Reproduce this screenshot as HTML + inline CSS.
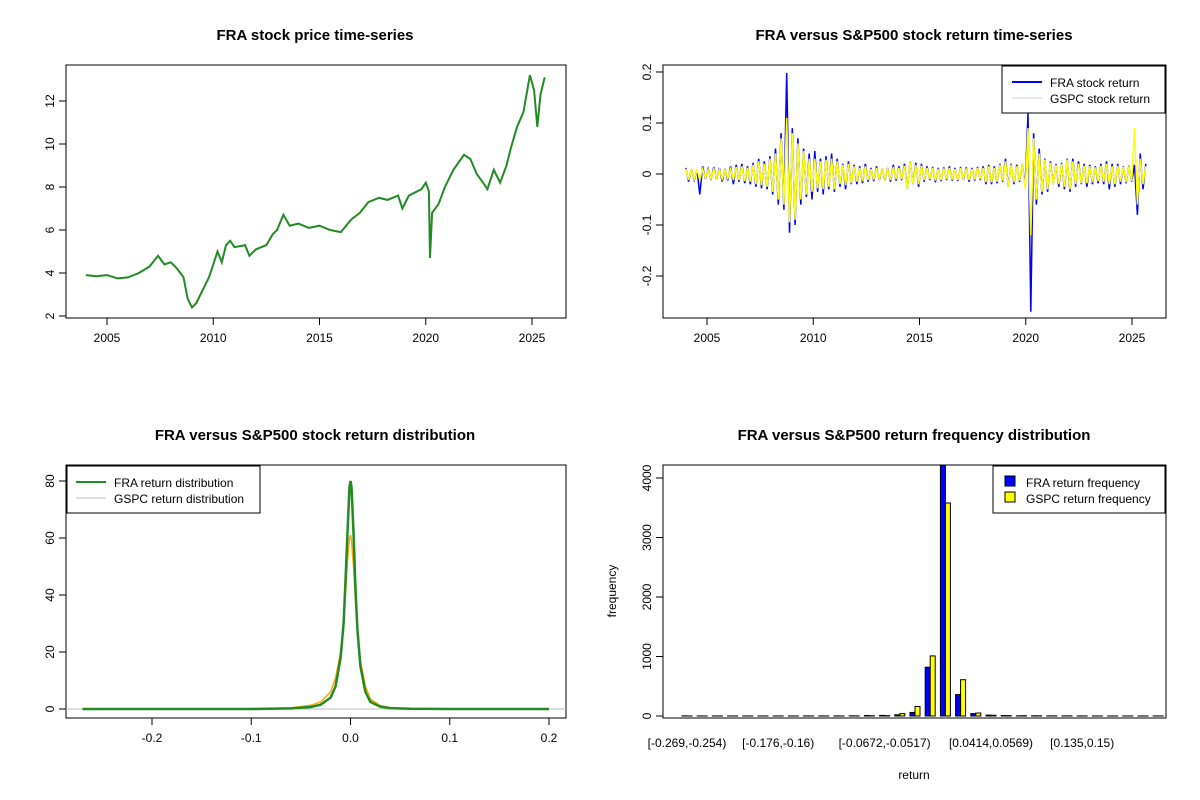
<!DOCTYPE html>
<html><head><meta charset="utf-8"><style>
body{margin:0;background:#fff}
svg{display:block;font-family:"Liberation Sans",Arial,sans-serif}
.t{font-weight:bold;font-size:15px}
.tk{font-size:12px}
</style></head><body>
<svg id="s" width="1200" height="800" xmlns="http://www.w3.org/2000/svg"></svg>
<script>
// ---- data ----
const priceYears=[2004,2004.5,2005,2005.5,2006,2006.5,2007,2007.4,2007.7,2008,2008.3,2008.6,2008.8,2009.0,2009.2,2009.5,2009.8,2010.0,2010.2,2010.4,2010.6,2010.8,2011.0,2011.5,2011.7,2012,2012.5,2012.8,2013,2013.3,2013.6,2014,2014.5,2015,2015.5,2016,2016.5,2016.9,2017.3,2017.8,2018.2,2018.7,2018.9,2019.2,2019.8,2020.0,2020.15,2020.2,2020.3,2020.6,2020.9,2021.3,2021.8,2022.1,2022.4,2022.7,2022.9,2023.2,2023.5,2023.8,2024.0,2024.3,2024.6,2024.9,2025.1,2025.25,2025.4,2025.6];
const priceValues=[3.9,3.85,3.9,3.75,3.8,4.0,4.3,4.8,4.4,4.5,4.2,3.8,2.8,2.4,2.6,3.2,3.8,4.4,5.0,4.5,5.3,5.5,5.2,5.3,4.8,5.1,5.3,5.8,6.0,6.7,6.2,6.3,6.1,6.2,6.0,5.9,6.5,6.8,7.3,7.5,7.4,7.6,7.0,7.6,7.9,8.2,7.8,4.7,6.8,7.2,8.0,8.8,9.5,9.3,8.6,8.2,7.9,8.8,8.2,9.0,9.8,10.8,11.5,13.2,12.5,10.8,12.3,13.1];
const retStart=2004, retStep=0.132;
const fraReturns=[.012,-.015,.01,-.012,.008,-.04,.015,-.01,.01,-.012,.014,-.01,.012,-.015,.01,-.013,.015,-.02,.018,-.015,.02,-.018,.015,-.02,.022,-.025,.03,-.028,.025,-.03,.035,-.04,.05,-.06,.08,-.07,.198,-.115,.09,-.1,.07,-.06,.05,-.045,.04,-.05,.045,-.035,.03,-.04,.035,-.03,.04,-.035,.03,-.025,.02,-.03,.025,-.02,.018,-.02,.015,-.018,.02,-.015,.012,-.014,.015,-.012,.01,-.012,.012,-.015,.018,-.013,.015,-.012,.02,-.03,.025,-.02,.022,-.025,.02,-.015,.015,-.012,.014,-.016,.012,-.014,.013,-.012,.015,-.013,.012,-.014,.014,-.012,.013,-.015,.012,-.013,.014,-.012,.015,-.02,.018,-.02,.015,-.018,.02,-.015,.03,-.025,.02,-.02,.018,-.015,.02,-.025,.12,-.27,.08,-.06,.05,-.04,.03,-.035,.025,-.02,.02,-.025,.022,-.03,.03,-.035,.03,-.025,.025,-.02,.02,-.025,.018,-.02,.015,-.018,.02,-.02,.025,-.03,.02,-.025,.02,-.02,.015,-.018,.016,-.015,.018,-.08,.04,-.03,.02];
const gspcReturns=[.01,-.012,.009,-.01,.008,-.012,.01,-.008,.008,-.01,.01,-.008,.009,-.01,.008,-.009,.01,-.012,.014,-.012,.015,-.014,.012,-.015,.018,-.02,.025,-.022,.02,-.025,.03,-.035,.04,-.05,.07,-.06,.11,-.095,.08,-.09,.06,-.05,.045,-.04,.03,-.035,.03,-.028,.025,-.03,.028,-.025,.03,-.03,.025,-.02,.018,-.022,.02,-.018,.015,-.015,.012,-.014,.015,-.012,.01,-.011,.012,-.01,.009,-.01,.01,-.012,.014,-.01,.012,-.01,.016,-.03,.025,-.02,.018,-.02,.016,-.012,.012,-.01,.012,-.013,.01,-.012,.011,-.01,.012,-.011,.01,-.012,.012,-.01,.011,-.012,.01,-.011,.012,-.01,.012,-.016,.015,-.016,.012,-.015,.018,-.013,.025,-.025,.018,-.016,.015,-.013,.02,-.03,.09,-.12,.07,-.05,.04,-.035,.028,-.03,.022,-.02,.018,-.02,.02,-.025,.028,-.03,.025,-.02,.02,-.018,.016,-.018,.015,-.016,.013,-.014,.016,-.015,.02,-.02,.015,-.02,.016,-.015,.014,-.016,.015,-.014,.09,-.06,.03,-.02,.015];
const densX=[-0.27,-0.1,-0.06,-0.04,-0.03,-0.02,-0.015,-0.01,-0.007,-0.005,-0.003,-0.001,0,0.001,0.003,0.005,0.007,0.01,0.015,0.02,0.03,0.04,0.06,0.1,0.2];
const fraDens=[0,0,0.2,0.7,1.5,4,8,18,30,45,62,78,80,78,62,42,28,15,6,2.5,0.8,0.3,0.1,0,0];
const gspcDens=[0,0.1,0.4,1.3,2.5,6,11,20,30,40,52,60,61,59,50,38,28,17,8,3.5,1.2,0.5,0.1,0,0];
const binLabels=["[-0.269,-0.254)","[-0.176,-0.16)","[-0.0672,-0.0517)","[0.0414,0.0569)","[0.135,0.15)"];
const binLabelIdx=[0,6,13,20,26];
const fraFreq=[3,1,1,1,1,1,1,1,2,2,2,3,8,10,20,60,820,4400,360,40,15,8,3,4,2,2,2,1,1,1,1,1];
const gspcFreq=[1,1,1,1,1,1,1,1,1,1,1,2,4,6,40,160,1010,3580,610,50,12,6,5,3,2,2,1,1,1,1,1,1];
const priceTicksY=[2,4,6,8,10,12], yearTicks=[2005,2010,2015,2020,2025];
const retTicksY=[-0.2,-0.1,0,0.1,0.2], densTicksX=[-0.2,-0.1,0,0.1,0.2], densTicksY=[0,20,40,60,80], freqTicksY=[0,1000,2000,3000,4000];

const S=document.getElementById('s');const NS='http://www.w3.org/2000/svg';
function el(t,a,txt){const e=document.createElementNS(NS,t);for(const k in a)e.setAttribute(k,a[k]);if(txt!=null)e.textContent=txt;S.appendChild(e);return e;}
function lin(d0,d1,r0,r1){return v=>r0+(v-d0)*(r1-r0)/(d1-d0);}
function box(x,y,w,h,name){const e=el('rect',{x:x,y:y,width:w,height:h,fill:'none',stroke:'#000'});}
function title(x,y,s,name){const e=el('text',{x:x,y:y,'text-anchor':'middle',class:'t'},s);}
function yTicks(x,vals,sy,fmt,name){vals.forEach(v=>{el('line',{x1:x,x2:x-7,y1:sy(v),y2:sy(v),stroke:'#000'});const t=el('text',{x:x-12,y:sy(v),'text-anchor':'middle',class:'tk',transform:`rotate(-90 ${x-12} ${sy(v)})`},fmt(v));});el('line',{x1:x,x2:x,y1:sy(vals[0]),y2:sy(vals[vals.length-1]),stroke:'#000'});}
function xTicks(y,vals,sx,fmt,name){vals.forEach(v=>{el('line',{x1:sx(v),x2:sx(v),y1:y,y2:y+7,stroke:'#000'});const t=el('text',{x:sx(v),y:y+24,'text-anchor':'middle',class:'tk'},fmt(v));});el('line',{x1:sx(vals[0]),x2:sx(vals[vals.length-1]),y1:y,y2:y,stroke:'#000'});}
function poly(xs,ys,sx,sy,col,w,name){const p=xs.map((x,i)=>sx(x).toFixed(1)+','+sy(ys[i]).toFixed(1)).join(' ');const e=el('polyline',{points:p,fill:'none',stroke:col,'stroke-width':w,'stroke-linejoin':'miter'});}

// Panel 1
let sx=lin(2005,2025,107,532), sy=lin(2,12,316,101);
box(66,65,500,253,'price-plot-area');title(315,40,'FRA stock price time-series','price-chart-title');
yTicks(66,priceTicksY,sy,v=>v,'price-y-tick');xTicks(318,yearTicks,sx,v=>v,'price-x-tick');
poly(priceYears,priceValues,sx,sy,'#228B22',2,'fra-price-line');

// Panel 2
sx=lin(2005,2025,707,1132); sy=lin(0,0.1,174,123);
box(663,65,503,253,'return-plot-area');title(914,40,'FRA versus S&P500 stock return time-series','return-chart-title');
yTicks(663,retTicksY,sy,v=>v,'return-y-tick');xTicks(318,yearTicks,sx,v=>v,'return-x-tick');
const tF=fraReturns.map((v,i)=>retStart+i*retStep);
const tG=gspcReturns.map((v,i)=>retStart+i*retStep);
poly(tF,fraReturns,sx,sy,'#0000ff',1.5,'fra-return-line');
poly(tG,gspcReturns,sx,sy,'#ffff00',1.5,'gspc-return-line');
el('rect',{x:1002,y:66,width:163,height:47,fill:'#fff',stroke:'#000'});
el('line',{x1:1012,x2:1042,y1:82,y2:82,stroke:'#00f','stroke-width':2});
el('text',{x:1050,y:87,class:'tk'},'FRA stock return');
el('line',{x1:1012,x2:1042,y1:98,y2:98,stroke:'#ccc'});
el('text',{x:1050,y:103,class:'tk'},'GSPC stock return');

// Panel 3
sx=lin(-0.2,0.2,152,549); sy=lin(0,80,709,481);
box(66,465,500,253,'density-plot-area');title(315,440,'FRA versus S&P500 stock return distribution','density-chart-title');
yTicks(66,densTicksY,sy,v=>v,'density-y-tick');xTicks(718,densTicksX,sx,v=>v.toFixed(1),'density-x-tick');
el('line',{x1:66,x2:566,y1:sy(0),y2:sy(0),stroke:'#bbb'});
poly(densX,gspcDens,sx,sy,'#FFA500',1.5,'gspc-density-line');
poly(densX,fraDens,sx,sy,'#228B22',2.5,'fra-density-line');
el('rect',{x:67,y:466,width:193,height:47,fill:'#fff',stroke:'#000'});
el('line',{x1:76,x2:106,y1:482,y2:482,stroke:'#228B22','stroke-width':2});
el('text',{x:114,y:487,class:'tk'},'FRA return distribution');
el('line',{x1:76,x2:106,y1:498,y2:498,stroke:'#bbb'});
el('text',{x:114,y:503,class:'tk'},'GSPC return distribution');

// Panel 4
sy=lin(0,4000,716,478);
const gx=i=>682+i*15.2;
title(914,440,'FRA versus S&P500 return frequency distribution','freq-chart-title');
fraFreq.forEach((v,i)=>{const h=Math.min(sy(0)-sy(v),sy(0)-465);const r=el('rect',{x:gx(i),y:sy(0)-h,width:5,height:h,fill:'#0000ff',stroke:'#000','stroke-width':1});});
gspcFreq.forEach((v,i)=>{const h=Math.min(sy(0)-sy(v),sy(0)-465);const r=el('rect',{x:gx(i)+5,y:sy(0)-h,width:5,height:h,fill:'#ffff00',stroke:'#000','stroke-width':1});});
box(663,465,503,253,'freq-plot-area');
yTicks(663,freqTicksY,sy,v=>v,'freq-y-tick');
binLabels.forEach((s,k)=>{const t=el('text',{x:gx(binLabelIdx[k])+5,y:747,'text-anchor':'middle',class:'tk'},s);});
el('text',{x:914,y:779,'text-anchor':'middle',class:'tk'},'return');
el('text',{x:616,y:591,'text-anchor':'middle',class:'tk',transform:'rotate(-90 616 591)'},'frequency');
el('rect',{x:993,y:466,width:172,height:47,fill:'#fff',stroke:'#000'});
el('rect',{x:1005,y:476,width:10,height:10,fill:'#00f',stroke:'#000'});
el('text',{x:1026,y:487,class:'tk'},'FRA return frequency');
el('rect',{x:1005,y:492,width:10,height:10,fill:'#ff0',stroke:'#000'});
el('text',{x:1026,y:503,class:'tk'},'GSPC return frequency');
</script>
</body></html>
